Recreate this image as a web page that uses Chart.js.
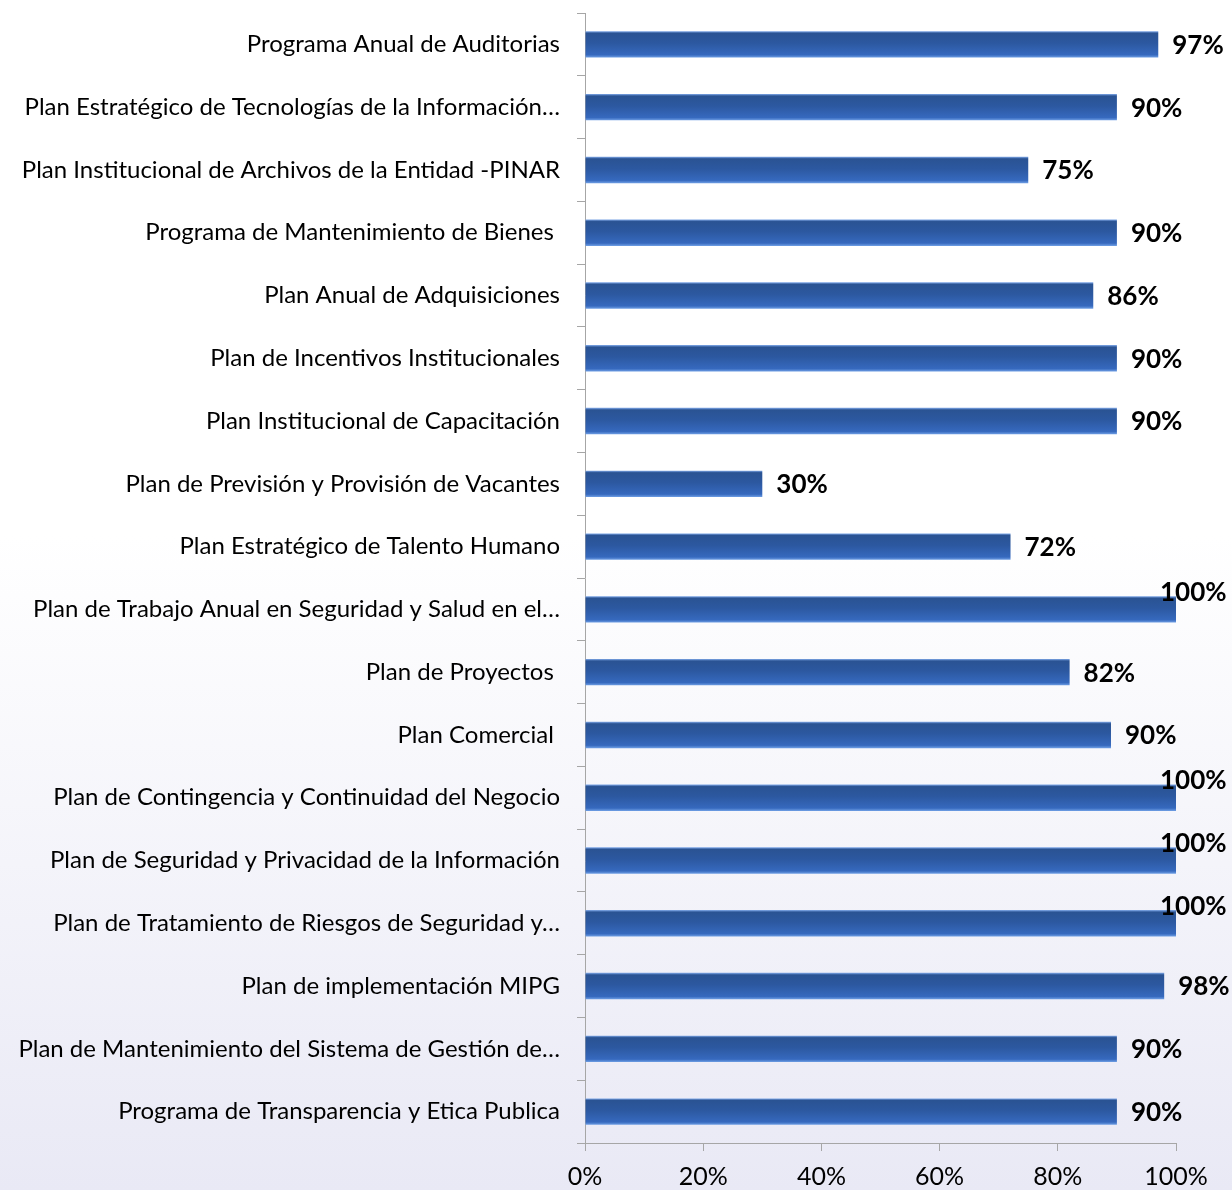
<!DOCTYPE html>
<html>
<head>
<meta charset="utf-8">
<script src="https://cdn.jsdelivr.net/npm/chart.js@4.4.1/dist/chart.umd.min.js"></script>
<style>
  html, body { margin: 0; padding: 0; }
  body {
    width: 1232px; height: 1190px; overflow: hidden;
    background: linear-gradient(to bottom, #ffffff 0%, #ffffff 45%, #e9e9f5 100%);
  }
  #wrap { position: relative; width: 1232px; height: 1190px; }
</style>
</head>
<body>
<div id="wrap"><canvas id="chart1"></canvas></div>
<script>
// ====== 데이터 ======
const planes = [
  'Programa Anual de Auditorias',
  'Plan Estratégico de Tecnologías de la Información…',
  'Plan Institucional de Archivos de la Entidad -PINAR',
  'Programa de Mantenimiento de Bienes ',
  'Plan Anual de Adquisiciones',
  'Plan de Incentivos Institucionales',
  'Plan Institucional de Capacitación',
  'Plan de Previsión y Provisión de Vacantes',
  'Plan Estratégico de Talento Humano',
  'Plan de Trabajo Anual en Seguridad y Salud en el…',
  'Plan de Proyectos ',
  'Plan Comercial ',
  'Plan de Contingencia y Continuidad del Negocio',
  'Plan de Seguridad y Privacidad de la Información',
  'Plan de Tratamiento de Riesgos de Seguridad y…',
  'Plan de implementación MIPG',
  'Plan de Mantenimiento del Sistema de Gestión de…',
  'Programa de Transparencia y Etica Publica'
];
const avance = [97, 90, 75, 90, 86, 90, 90, 30, 72, 100, 82, 89, 100, 100, 100, 98, 90, 90];
const etiquetas = ['97%','90%','75%','90%','86%','90%','90%','30%','72%','100%','82%','90%','100%','100%','100%','98%','90%','90%'];
const xTicks = [0, 20, 40, 60, 80, 100];

const FONT = 'Lato, "Open Sans", sans-serif';

// 막대 세로 그라데이션
function barGradient(context) {
  const chart = context.chart;
  const y = chart.scales && chart.scales.y;
  if (!y || context.dataIndex === undefined) return '#2d5aa3';
  const c = y.getPixelForValue(context.dataIndex);
  if (!isFinite(c)) return '#2d5aa3';
  const h = 13;
  const g = chart.ctx.createLinearGradient(0, c - h, 0, c + h);
  g.addColorStop(0, '#7aa3e3');
  g.addColorStop(0.07, '#2a5393');
  g.addColorStop(0.45, '#2c58a0');
  g.addColorStop(0.9, '#3669be');
  g.addColorStop(1, '#6b9be2');
  return g;
}

// 값 라벨 (막대 끝)
const valueLabels = {
  id: 'valueLabels',
  afterDatasetsDraw(chart) {
    const ctx = chart.ctx;
    const meta = chart.getDatasetMeta(0);
    ctx.save();
    ctx.font = 'bold 26px ' + FONT;
    ctx.fillStyle = '#000';
    ctx.textAlign = 'left';
    ctx.textBaseline = 'middle';
    meta.data.forEach((bar, i) => {
      if (avance[i] >= 100) {
        ctx.fillText(etiquetas[i], bar.x - 16, bar.y - 17);
      } else {
        ctx.fillText(etiquetas[i], bar.x + 14, bar.y + 1);
      }
    });
    ctx.restore();
  }
};

const ctx = document.getElementById('chart1');
new Chart(ctx, {
  type: 'bar',
  data: {
    labels: planes,
    datasets: [{
      data: avance,
      backgroundColor: barGradient,
      borderWidth: 0,
      categoryPercentage: 1,
      barPercentage: 0.42
    }]
  },
  plugins: [valueLabels],
  options: {
    indexAxis: 'y',
    responsive: true,
    maintainAspectRatio: false,
    animation: false,
    layout: { padding: { top: 13, right: 56, bottom: 0, left: 0 } },
    plugins: {
      legend: { display: false },
      tooltip: { enabled: false }
    },
    scales: {
      x: {
        min: 0, max: 100,
        afterBuildTicks: (s) => { s.ticks = xTicks.map(v => ({ value: v })); },
        afterFit: (s) => { s.height = 47; s.paddingLeft = 0; s.paddingRight = 0; },
        ticks: {
          callback: (v) => v + '%',
          color: '#000',
          font: { family: FONT, size: 25 },
          padding: 11,
          maxRotation: 0
        },
        grid: { drawOnChartArea: false, tickLength: 8, color: '#a6a6a6' },
        border: { color: '#a6a6a6', width: 1 }
      },
      y: {
        afterFit: (s) => { s.width = 585; s.paddingTop = 0; s.paddingBottom = 0; },
        ticks: {
          color: '#000',
          font: { family: FONT, size: 24 },
          padding: 17,
          autoSkip: false
        },
        grid: { drawOnChartArea: false, offset: true, tickLength: 8, color: '#a6a6a6' },
        border: { color: '#a6a6a6', width: 1 }
      }
    }
  }
});
</script>
</body>
</html>
